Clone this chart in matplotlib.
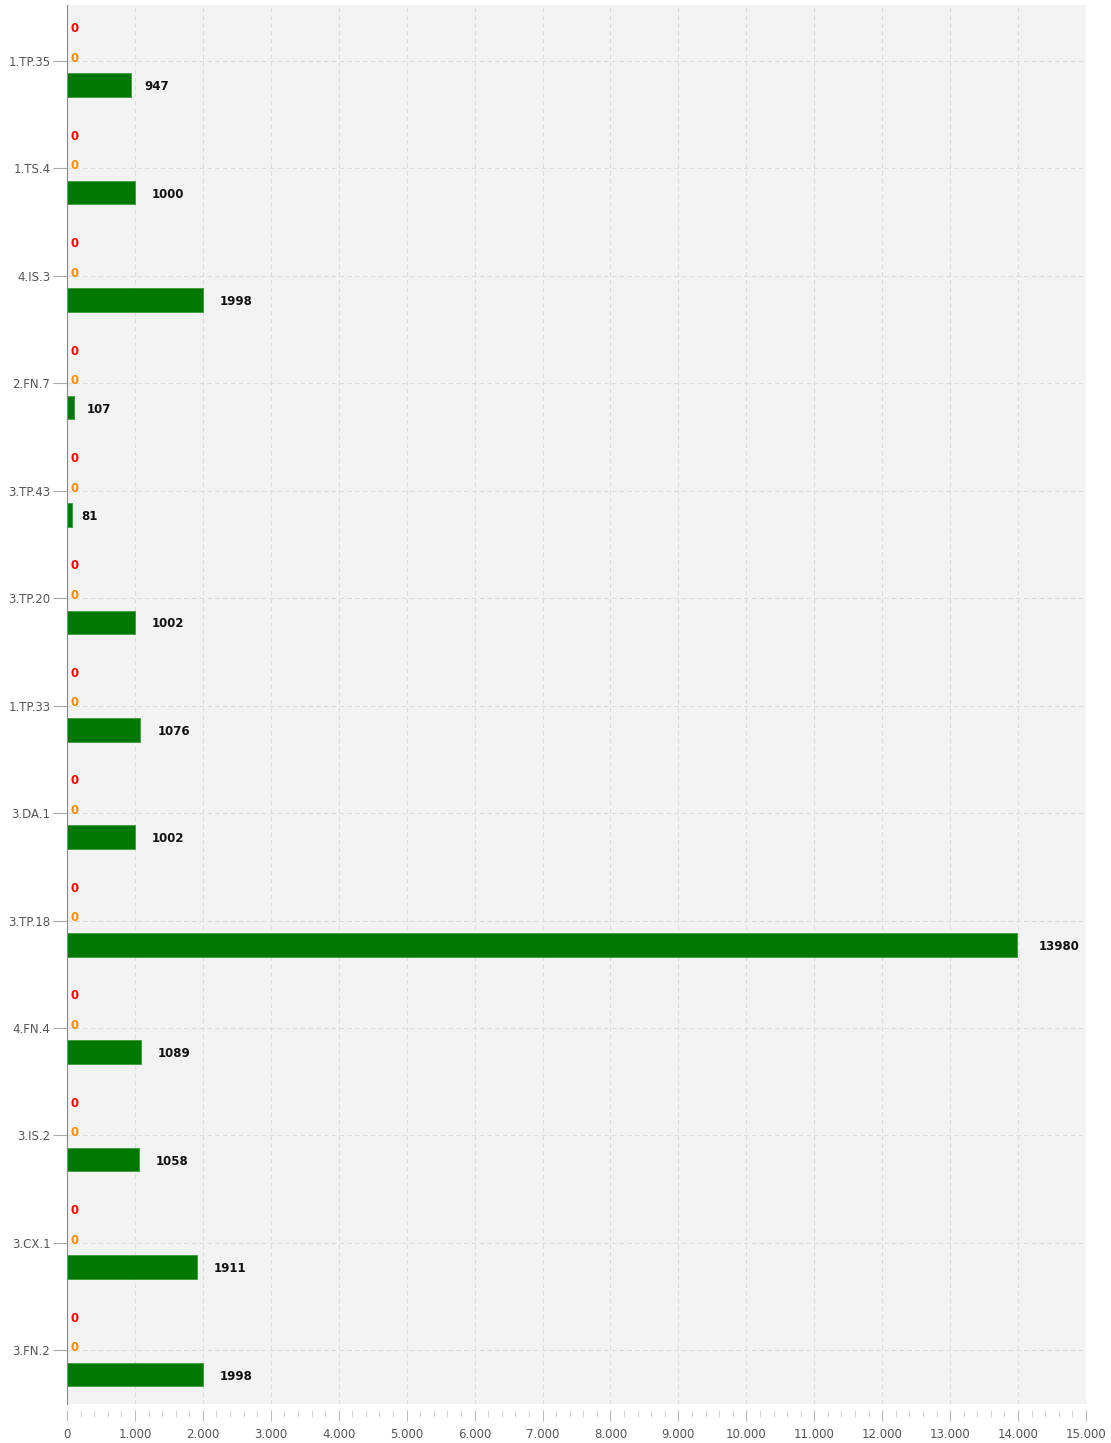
import matplotlib.pyplot as plt
from matplotlib.ticker import MultipleLocator, FuncFormatter

categories = ['1.TP.35', '1.TS.4', '4.IS.3', '2.FN.7', '3.TP.43', '3.TP.20', '1.TP.33',
              '3.DA.1', '3.TP.18', '4.FN.4', '3.IS.2', '3.CX.1', '3.FN.2']
red_vals = [0, 0, 0, 0, 0, 0, 0, 0, 0, 0, 0, 0, 0]
orange_vals = [0, 0, 0, 0, 0, 0, 0, 0, 0, 0, 0, 0, 0]
green_vals = [947, 1000, 1998, 107, 81, 1002, 1076, 1002, 13980, 1089, 1058, 1911, 1998]

fig = plt.figure(figsize=(11.11, 14.43), dpi=100)
ax = fig.add_axes([0.0603, 0.027, 0.9172, 0.9695])
ax.set_facecolor('#f3f3f3')

pos = list(range(len(categories)))
h = 0.22

# red / orange / green bars per category (top to bottom)
ax.barh([p - 0.29 for p in pos], red_vals, height=h, color='#ff0000')
ax.barh([p - 0.02 for p in pos], orange_vals, height=h, color='#ff8c00')
ax.barh([p + 0.225 for p in pos], green_vals, height=h, color='#007800', edgecolor='#3a9a3a', linewidth=0.6)

for p, r, o, g in zip(pos, red_vals, orange_vals, green_vals):
    ax.annotate(str(r), (r, p - 0.30), xytext=(2.5, 0), textcoords='offset points',
                ha='left', va='center', color='#ff0000', fontsize=8.5, fontweight='bold')
    ax.annotate(str(o), (o, p - 0.025), xytext=(2.5, 0), textcoords='offset points',
                ha='left', va='center', color='#ff8c00', fontsize=8.5, fontweight='bold')
    off = (4.4 * len(str(g)) - 0.5) * 0.72
    ax.annotate(str(g), (g, p + 0.24), xytext=(off, 0), textcoords='offset points',
                ha='left', va='center', color='#111111', fontsize=8.5, fontweight='bold')

ax.set_ylim(len(categories) - 0.5, -0.52)
ax.set_xlim(0, 15000)
ax.set_yticks(pos)
ax.set_yticklabels(categories)

ax.xaxis.set_major_locator(MultipleLocator(1000))
ax.xaxis.set_minor_locator(MultipleLocator(200))
ax.xaxis.set_major_formatter(FuncFormatter(lambda v, _: f'{int(v):,}'.replace(',', '.')))

ax.grid(True, which='major', color='#dcdcdc', linestyle=(0, (4, 3)), linewidth=0.8)
ax.set_axisbelow(True)

for s in ['top', 'right', 'bottom']:
    ax.spines[s].set_visible(False)
ax.spines['bottom'].set_position(('outward', 4))
ax.spines['left'].set_color('#888888')

ax.tick_params(axis='y', length=10, color='#aaaaaa', labelsize=8.5, labelcolor='#555555', pad=2)
ax.tick_params(axis='x', which='major', length=8, color='#bbbbbb', labelsize=8.5,
               labelcolor='#555555', pad=5, direction='out')
ax.tick_params(axis='x', which='minor', length=5, color='#cccccc', direction='out')

fig.savefig('out.png', dpi=100, facecolor='white')
